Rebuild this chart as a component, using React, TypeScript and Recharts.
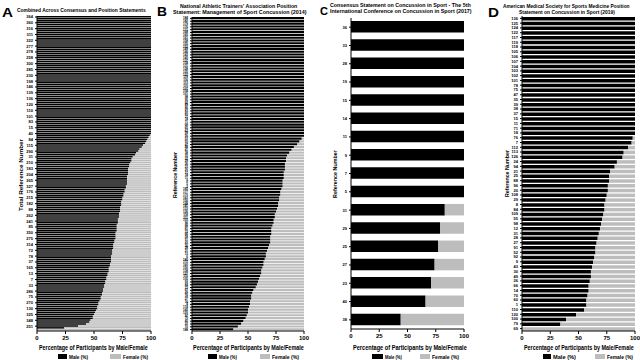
import React from 'react';
import { BarChart, Bar, XAxis, YAxis } from 'recharts';

const FONT = '"Liberation Sans", Arial, sans-serif';
const MALE_COLOR = '#000000';
const FEMALE_COLOR = '#bdbdbd';

const xTicks = [0, 25, 50, 75, 100];

// Panel A: combined (reference numbers, top to bottom)
const refsA = [
  364, 362, 361, 360, 357, 354, 316, 315, 313, 311,
  310, 308, 322, 321, 319, 277, 274, 272, 278, 276,
  271, 258, 257, 255, 300, 299, 297, 285, 284, 282,
  230, 229, 227, 198, 197, 195, 146, 145, 143, 139,
  138, 137, 136, 135, 133, 120, 121, 122, 110, 111,
  112, 101, 102, 103, 83, 82, 81, 15, 16, 17,
  40, 41, 42, 84, 86, 87, 115, 114, 116, 290,
  291, 292, 31, 32, 34, 210, 211, 212, 183, 184,
  185, 204, 205, 206, 265, 266, 267, 327, 328, 329,
  176, 177, 178, 215, 216, 217, 182, 181, 180, 88,
  89, 90, 262, 263, 264, 241, 242, 243, 85, 94,
  96, 350, 351, 352, 275, 279, 280, 314, 317, 318,
  72, 73, 74, 78, 79, 77, 37, 38, 39, 165,
  166, 167, 13, 12, 14, 7, 8, 6, 33, 28,
  36, 286, 287, 288, 75, 76, 70, 270, 269, 268,
  130, 131, 134, 325, 324, 323, 348, 347, 346, 251,
  293, 35,
];
const maleA = [
  100, 100, 100, 100, 100, 100, 100, 100, 100, 100,
  100, 100, 100, 100, 100, 100, 100, 100, 100, 100,
  100, 100, 100, 100, 100, 100, 100, 100, 100, 100,
  100, 100, 100, 100, 100, 100, 100, 100, 100, 100,
  100, 100, 100, 100, 100, 100, 100, 100, 100, 100,
  100, 100, 100, 100, 100, 100, 100, 100, 100, 100,
  100,
  99, 98, 97, 96, 95, 93, 92, 90, 89, 87, 86, 84, 83, 83, 82,
  81, 81, 80, 80, 80, 80, 79, 79, 79, 79, 79, 78, 78, 77, 77,
  76, 76, 75, 75, 74, 74, 74, 73, 73, 73, 72, 72, 72, 71, 71,
  71, 70, 70, 70, 70, 69, 69, 69, 69, 68, 68, 67, 67, 67, 66, 66,
  66, 65, 65, 65, 65, 64, 64, 63, 63, 63, 62, 62, 61, 61, 60,
  60, 59, 59, 58, 58, 57, 57, 56, 56, 55, 54, 54, 53, 53, 52,
  51, 50, 49, 49, 47, 46, 43, 36, 24, 0,
];

// Panel B: NATA 2014
const refsB = [
  184, 182, 179, 176, 171, 168, 165, 161, 158, 155,
  152, 149, 146, 143, 140, 137, 134, 131, 128, 125,
  122, 119, 116, 113, 110, 107, 104, 101, 98, 95,
  92, 89, 86, 83, 80, 77, 74, 71, 68, 65,
  62, 59, 56, 53, 50, 47, 44, 41, 38, 35,
  32, 29, 26, 23, 20, 17, 14, 11, 8, 5,
  2, 183, 177, 170, 163, 156, 148, 141, 133, 126,
  118, 111, 103, 96, 88, 81, 73, 66, 58, 51,
  43, 36, 28, 21, 13, 6, 180, 172, 160, 150,
  138, 127, 115, 105, 93, 84, 72, 61, 49, 39,
  27, 16, 4, 174, 145, 120, 97, 70, 45, 22,
  10, 188,
];
const maleB = [
  100, 100, 100, 100, 100, 100, 100, 100, 100, 100,
  100, 100, 100, 100, 100, 100, 100, 100, 100, 100,
  100, 100, 100, 100, 100, 100, 100, 100, 100, 100,
  100, 100, 100, 100, 100, 100, 100, 100, 100, 100,
  100, 100, 100,
  98, 96, 94, 91, 89, 87, 85, 84, 84, 83, 83, 83, 82, 82,
  82, 81, 81, 81, 80, 79, 79, 78, 78, 77, 77, 76,
  75, 74, 74, 73, 73, 72, 71, 71, 71, 70, 70, 70,
  69, 68, 67, 66, 66, 65, 64, 64, 63, 62, 62, 61, 60,
  59, 58, 57, 55, 54, 53, 53, 52, 52, 51, 50, 50, 49, 48,
  46, 44, 41, 37,
];

// Panel C: 5th International Conference 2017
const refsC = [36, 33, 28, 19, 15, 14, 11, 9, 7, 5, 31, 29, 25, 27, 23, 40, 38];
const maleC = [100, 100, 100, 100, 100, 100, 100, 100, 100, 100, 83, 79, 77, 74, 71, 66, 44];

// Panel D: AMSSM 2019
const refsD = [
  136, 125, 124, 122, 117, 119, 118, 105, 106, 107,
  104, 103, 102, 101, 78, 75, 47, 35, 39, 38,
  37, 15, 11, 71, 18, 76, 7, 112, 113, 126,
  24, 94, 21, 25, 88, 96, 20, 108, 29, 8,
  84, 109, 55, 98, 12, 31, 28, 27, 91, 52,
  92, 9, 43, 30, 49, 26, 66, 14, 70, 60,
  1, 110, 120, 100, 79, 69,
];
const maleD = [
  100, 100, 100, 100, 100, 100, 100, 100, 100, 100,
  100, 100, 100, 100, 100, 100, 100, 100, 100, 100,
  100, 100, 100, 100, 100,
  98, 97, 94, 90, 89, 84, 82, 78, 77, 77,
  76, 76, 75, 74, 73, 73, 72, 71, 70, 69,
  68, 67, 66, 65, 65, 64, 63, 62, 61, 61,
  60, 59, 59, 58, 57, 57, 55, 48, 39, 34,
  0,
];

type Row = { refNo: string; male: number; female: number };

const build = (refs: number[], male: number[]): Row[] =>
  refs.map((r, i) => ({ refNo: String(r), male: male[i], female: 100 - male[i] }));

// natural width of a bold label, so it can be squeezed to the width seen in the figure
let ctx: CanvasRenderingContext2D | null = null;
const measure = (txt: string, size: number) => {
  if (!ctx) ctx = document.createElement('canvas').getContext('2d');
  if (!ctx) return txt.length * size * 0.55;
  ctx.font = `bold ${size}px "Liberation Sans"`;
  return ctx.measureText(txt).width;
};

interface PanelProps {
  left: number;
  width: number;
  yWidth: number;
  right: number;
  top: number;
  bottom: number;
  data: Row[];
  interval: number;
  tickFont: number;
  barSize: number;
}

const Panel: React.FC<PanelProps> = ({ left, width, yWidth, right, top, bottom, data, interval, tickFont, barSize }) => (
  <div style={{ position: 'absolute', left, top: 0 }}>
    <BarChart
      width={width}
      height={360}
      data={data}
      layout="vertical"
      margin={{ top, right, bottom: 0, left: 0 }}
      barSize={barSize}
    >
      <XAxis
        type="number"
        domain={[0, 100]}
        ticks={xTicks}
        height={360 - bottom}
        tickSize={3}
        axisLine={{ stroke: '#000' }}
        tickLine={{ stroke: '#000' }}
        tick={{ fontSize: 6, fill: '#000', fontWeight: 700, fontFamily: FONT }}
      />
      <YAxis
        type="category"
        dataKey="refNo"
        width={yWidth}
        interval={interval}
        tickSize={2}
        axisLine={{ stroke: '#000' }}
        tickLine={{ stroke: '#000' }}
        tick={{ fontSize: tickFont, fill: '#000', fontWeight: 700, fontFamily: FONT }}
      />
      <Bar dataKey="male" stackId="s" fill={MALE_COLOR} isAnimationActive={false} />
      <Bar dataKey="female" stackId="s" fill={FEMALE_COLOR} isAnimationActive={false} />
    </BarChart>
  </div>
);

const T: React.FC<{ x: number; y: number; w: number; size: number; children: string }> = ({ x, y, w, size, children }) => {
  const sx = w / measure(children, size);
  return (
    <text
      transform={`translate(${x},${y}) scale(${sx},1)`}
      fontSize={size}
      fontWeight={700}
      fontFamily={FONT}
      fill="#000"
    >
      {children}
    </text>
  );
};

const YTitle: React.FC<{ x: number; cy: number; w: number; children: string }> = ({ x, cy, w, children }) => {
  const sx = w / measure(children, 6);
  return (
    <text
      transform={`translate(${x},${cy}) rotate(-90) scale(${sx},1)`}
      textAnchor="middle"
      fontSize={6}
      fontWeight={700}
      fontFamily={FONT}
      fill="#000"
    >
      {children}
    </text>
  );
};

const Legend: React.FC<{ bx: number; mx: number; gx: number; fx: number; mw: number; fw: number }> = ({ bx, mx, gx, fx, mw, fw }) => (
  <g>
    <rect x={bx} y={354} width={mx - bx - 2} height={5} fill={MALE_COLOR} />
    <T x={mx} y={359} w={mw} size={5.5}>Male (%)</T>
    <rect x={gx} y={354} width={fx - gx - 2} height={5} fill={FEMALE_COLOR} />
    <T x={fx} y={359} w={fw} size={5.5}>Female (%)</T>
  </g>
);

export default function App() {
  const dataA = build(refsA, maleA);
  const dataB = build(refsB, maleB);
  const dataC = build(refsC, maleC);
  const dataD = build(refsD, maleD);

  return (
    <div style={{ position: 'fixed', left: 0, top: 0, width: 640, height: 360, background: '#fff', overflow: 'hidden' }}>
      <Panel left={0} width={160} yWidth={37} right={9} top={16} bottom={331} data={dataA} interval={2} tickFont={4} barSize={1.5} />
      <Panel left={160} width={160} yWidth={32} right={16} top={17} bottom={331} data={dataB} interval={0} tickFont={3} barSize={2.1} />
      <Panel left={320} width={160} yWidth={31} right={16} top={18} bottom={329} data={dataC} interval={0} tickFont={4} barSize={11.5} />
      <Panel left={480} width={160} yWidth={42} right={5} top={16} bottom={331} data={dataD} interval={0} tickFont={4} barSize={3.5} />

      <svg width={640} height={360} style={{ position: 'absolute', left: 0, top: 0, pointerEvents: 'none' }}>
        {/* panel letters */}
        <T x={2} y={17} w={11} size={13}>A</T>
        <T x={157} y={16} w={10} size={12}>B</T>
        <T x={320} y={15} w={8} size={11}>C</T>
        <T x={488} y={17} w={11} size={13}>D</T>

        {/* titles */}
        <T x={17} y={11.5} w={129} size={6}>Combined Across Consensus and Position Statements</T>
        <T x={180} y={7.5} w={118} size={6}>National Athletic Trainers' Association Position</T>
        <T x={173} y={14} w={134} size={6}>Statement: Management of Sport Concussion (2014)</T>
        <T x={330} y={7} w={141} size={6}>Consensus Statement on Concussion in Sport - The 5th</T>
        <T x={330} y={13} w={142} size={6}>International Conference on Concussion in Sport (2017)</T>
        <T x={503} y={7.5} w={127} size={6}>American Medical Society for Sports Medicine Position</T>
        <T x={519} y={14} w={96} size={6}>Statement on Concussion in Sport (2019)</T>

        {/* y axis titles */}
        <YTitle x={23} cy={175} w={72}>Total Reference Number</YTitle>
        <YTitle x={176.5} cy={175} w={46}>Reference Number</YTitle>
        <YTitle x={337} cy={174} w={48}>Reference Number</YTitle>
        <YTitle x={509} cy={173.5} w={47}>Reference Number</YTitle>

        {/* x axis titles */}
        <T x={39} y={350} w={109} size={6.5}>Percentage of Participants by Male/Female</T>
        <T x={193} y={350} w={111} size={6.5}>Percentage of Participants by Male/Female</T>
        <T x={353} y={350} w={114} size={6.5}>Percentage of Participants by Male/Female</T>
        <T x={524} y={350} w={110} size={6.5}>Percentage of Participants by Male/Female</T>

        {/* legends */}
        <Legend bx={58} mx={69} gx={110} fx={123} mw={19} fw={25} />
        <Legend bx={208} mx={219} gx={260} fx={272} mw={18} fw={27} />
        <Legend bx={372} mx={385} gx={420} fx={432} mw={17} fw={27} />
        <Legend bx={543} mx={553} gx={595} fx={607} mw={23} fw={26} />
      </svg>
    </div>
  );
}
